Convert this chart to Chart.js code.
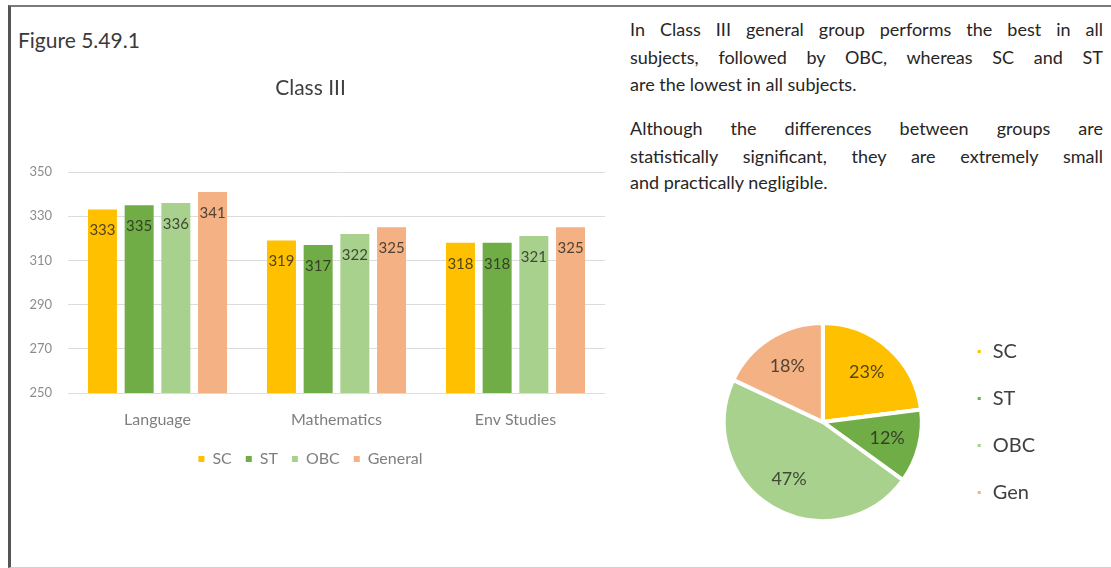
<!DOCTYPE html>
<html>
<head>
<meta charset="utf-8">
<script src="https://cdn.jsdelivr.net/npm/chart.js@4.4.1/dist/chart.umd.min.js"></script>
<style>
  html, body { margin: 0; padding: 0; background: #ffffff; }
  body { width: 1111px; height: 568px; position: relative; overflow: hidden; font-family: Lato, "Open Sans", sans-serif; }
  .frame { position: absolute; left: 8px; top: 5px; width: 1120px; height: 560px;
           border-top: 2px solid #7a7a7a; border-left: 3px solid #555; border-bottom: 1px solid #d0d0d0; }
  .fig { position: absolute; left: 18px; top: 26px; font-size: 21px; color: #3a3a3a; line-height: 28px; }
  .txt { position: absolute; left: 630px; width: 473px; font-size: 18px; color: #262626; line-height: 24px; white-space: nowrap; }
  .full { text-align: justify; text-align-last: justify; white-space: normal; }
  canvas { position: absolute; }
</style>
</head>
<body>
<div class="frame"></div>
<div class="fig">Figure 5.49.1</div>

<div class="txt full" style="top:17px">In Class III general group performs the best in all</div>
<div class="txt full" style="top:45px">subjects, followed by OBC, whereas SC and ST</div>
<div class="txt" style="top:72px">are the lowest in all subjects.</div>
<div class="txt full" style="top:116px">Although the differences between groups are</div>
<div class="txt full" style="top:144px">statistically significant, they are extremely small</div>
<div class="txt" style="top:170px">and practically negligible.</div>

<canvas id="bars" width="594" height="469" style="left:16px; top:8px;"></canvas>
<canvas id="pie" width="358" height="240" style="left:697px; top:302px;"></canvas>

<script>
// Mean scores by subject and social group (Class III)
const subjects = ['Language', 'Mathematics', 'Env Studies'];
const scScores = [333, 319, 318];
const stScores = [335, 317, 318];
const obcScores = [336, 322, 321];
const generalScores = [341, 325, 325];
const groupNames = ['SC', 'ST', 'OBC', 'General'];
const yMin = 250, yMax = 350, yStep = 20;

// Share of pupils in each group
const pieGroups = ['SC', 'ST', 'OBC', 'Gen'];
const pieShares = [23, 12, 47, 18];

const groupColors = ['#FFC000', '#70AD47', '#A9D18E', '#F4B183'];
const labelInk = 'rgba(35,35,30,0.78)';

// value written just inside the top of each bar
const barValueLabels = {
  id: 'barValueLabels',
  afterDatasetsDraw(chart) {
    const ctx = chart.ctx;
    ctx.save();
    ctx.font = '15px Lato';
    ctx.fillStyle = labelInk;
    ctx.textAlign = 'center';
    ctx.textBaseline = 'middle';
    chart.data.datasets.forEach((ds, i) => {
      chart.getDatasetMeta(i).data.forEach((bar, j) => {
        ctx.fillText(String(ds.data[j]), bar.x, bar.y + 21);
      });
    });
    ctx.restore();
  }
};

// percentage written inside each slice
const sliceLabels = {
  id: 'sliceLabels',
  afterDatasetsDraw(chart) {
    const ctx = chart.ctx;
    const meta = chart.getDatasetMeta(0);
    ctx.save();
    ctx.font = '18px Lato';
    ctx.fillStyle = labelInk;
    ctx.textAlign = 'center';
    ctx.textBaseline = 'middle';
    meta.data.forEach((arc, i) => {
      const mid = (arc.startAngle + arc.endAngle) / 2;
      const r = arc.outerRadius * 0.67;
      ctx.fillText(chart.data.datasets[0].data[i] + '%', arc.x + Math.cos(mid) * r, arc.y + Math.sin(mid) * r);
    });
    ctx.restore();
  }
};

new Chart(document.getElementById('bars'), {
  type: 'bar',
  data: {
    labels: subjects,
    datasets: [scScores, stScores, obcScores, generalScores].map((vals, i) => ({
      label: groupNames[i],
      data: vals,
      backgroundColor: groupColors[i],
      borderWidth: 0,
      categoryPercentage: 0.82,
      barPercentage: 0.79
    }))
  },
  options: {
    responsive: false,
    animation: false,
    devicePixelRatio: 1,
    layout: { padding: { left: 0, right: 5, top: 0, bottom: 0 } },
    plugins: {
      title: {
        display: true,
        text: 'Class III',
        color: '#404040',
        font: { family: 'Lato', size: 21, weight: 'normal' },
        padding: { top: 67.4, bottom: 71.4 }
      },
      legend: {
        position: 'bottom',
        labels: {
          boxWidth: 6, boxHeight: 6, padding: 14,
          color: '#7f7f7f',
          font: { family: 'Lato', size: 16 }
        }
      },
      tooltip: { enabled: false }
    },
    scales: {
      x: {
        grid: { display: false, drawTicks: false },
        border: { display: false },
        ticks: { color: '#7f7f7f', font: { family: 'Lato', size: 16 }, padding: 17 },
        afterFit(scale) { scale.height = 44; }
      },
      y: {
        min: yMin, max: yMax,
        grid: { color: '#dcdcdc', drawTicks: false },
        border: { display: false },
        ticks: { stepSize: yStep, color: '#8c8c8c', font: { family: 'Lato', size: 13 }, padding: 16 },
        afterFit(scale) { scale.width = 52; }
      }
    }
  },
  plugins: [barValueLabels]
});

new Chart(document.getElementById('pie'), {
  type: 'pie',
  data: {
    labels: pieGroups,
    datasets: [{
      data: pieShares,
      backgroundColor: groupColors,
      borderColor: '#ffffff',
      borderWidth: 4
    }]
  },
  options: {
    responsive: false,
    animation: false,
    devicePixelRatio: 1,
    radius: 99,
    layout: { padding: { left: 0, right: 10, top: 0, bottom: 0 } },
    plugins: {
      legend: {
        position: 'right',
        labels: {
          boxWidth: 7, boxHeight: 7, padding: 27,
          color: '#404040',
          font: { family: 'Lato', size: 20 }
        }
      },
      tooltip: { enabled: false }
    }
  },
  plugins: [sliceLabels]
});
</script>
</body>
</html>
